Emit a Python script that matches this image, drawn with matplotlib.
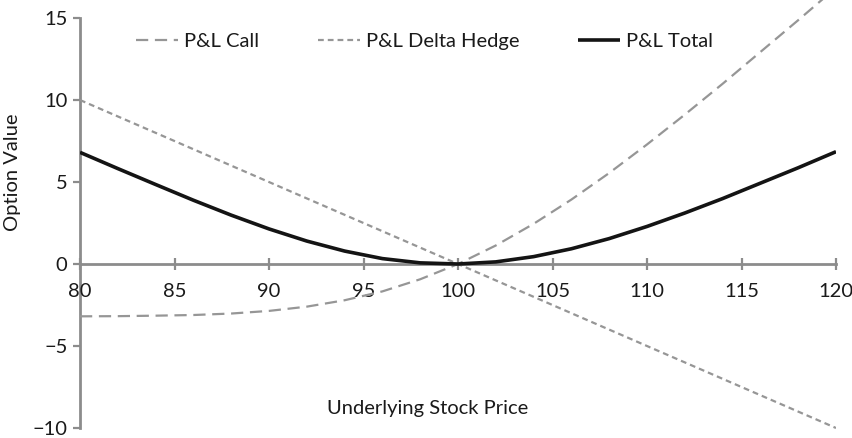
import matplotlib
matplotlib.use("Agg")
import matplotlib.pyplot as plt

# values
stock_price = [80, 82, 84, 86, 88, 90, 92, 94, 96, 98, 100,
               102, 104, 106, 108, 110, 112, 114, 116, 118, 120]
pl_call = [-3.19, -3.18, -3.15, -3.11, -3.02, -2.86, -2.60, -2.21, -1.67, -0.93, 0.0,
           1.13, 2.45, 3.93, 5.55, 7.29, 9.11, 10.99, 12.93, 14.87, 16.85]
pl_hedge = [10, 9, 8, 7, 6, 5, 4, 3, 2, 1, 0,
            -1, -2, -3, -4, -5, -6, -7, -8, -9, -10]
pl_total = [6.81, 5.82, 4.85, 3.89, 2.98, 2.14, 1.40, 0.79, 0.33, 0.07, 0.0,
            0.13, 0.45, 0.93, 1.55, 2.29, 3.11, 3.99, 4.93, 5.87, 6.85]

x_ticks = [80, 85, 90, 95, 100, 105, 110, 115, 120]
y_ticks = [-10, -5, 0, 5, 10, 15]

plt.rcParams['font.family'] = ['Lato', 'DejaVu Sans']

fig = plt.figure(figsize=(8.53, 4.38), dpi=100)
ax = fig.add_axes([80 / 853, 0, 756 / 853, 1])

grey = '#969696'
axis_grey = '#8c8c8c'
fs = 14.5

ax.plot(stock_price, pl_call, color=grey, lw=1.6, dashes=(5.5, 3), label='P&L Call')
ax.plot(stock_price, pl_hedge, color=grey, lw=1.6, dashes=(2.6, 1.8), label='P&L Delta Hedge')
ax.plot(stock_price, pl_total, color='#141414', lw=2.6, label='P&L Total', solid_capstyle='butt')

ax.set_xlim(80, 120)
ax.set_ylim(-10.61, 16.1)

for s in ['top', 'right']:
    ax.spines[s].set_visible(False)
ax.spines['bottom'].set_position(('data', 0))
ax.spines['left'].set_bounds(-10, 15)
ax.spines['bottom'].set_bounds(80, 120)
for s in ['left', 'bottom']:
    ax.spines[s].set_color(axis_grey)
    ax.spines[s].set_linewidth(2)
ax.spines['left'].set_zorder(0.5)
ax.spines['bottom'].set_zorder(0.5)

ax.set_xticks(x_ticks)
ax.set_yticks(y_ticks)
ax.set_yticklabels(['\u221210', '\u22125', '0', '5', '10', '15'])
ax.tick_params(axis='x', direction='inout', length=9, width=1.6, color=axis_grey,
               labelsize=fs, pad=9, labelcolor='#1a1a1a')
ax.tick_params(axis='y', direction='out', length=5, width=1.6, color=axis_grey,
               labelsize=fs, pad=4, labelcolor='#1a1a1a')

ax.text(98.4, -8.84, 'Underlying Stock Price', ha='center', va='center',
        fontsize=fs, color='#1a1a1a')
fig.text(13 / 853, 1 - 172 / 438, 'Option Value', rotation=90, ha='center',
         va='center', fontsize=fs, color='#1a1a1a')

ax.legend(loc='center', bbox_to_anchor=(0.456, 1 - 41 / 438), ncol=3, frameon=False,
          fontsize=fs, handlelength=2.1, handletextpad=0.3, columnspacing=2.9,
          labelcolor='#1a1a1a')

fig.savefig('out.png', dpi=100)
